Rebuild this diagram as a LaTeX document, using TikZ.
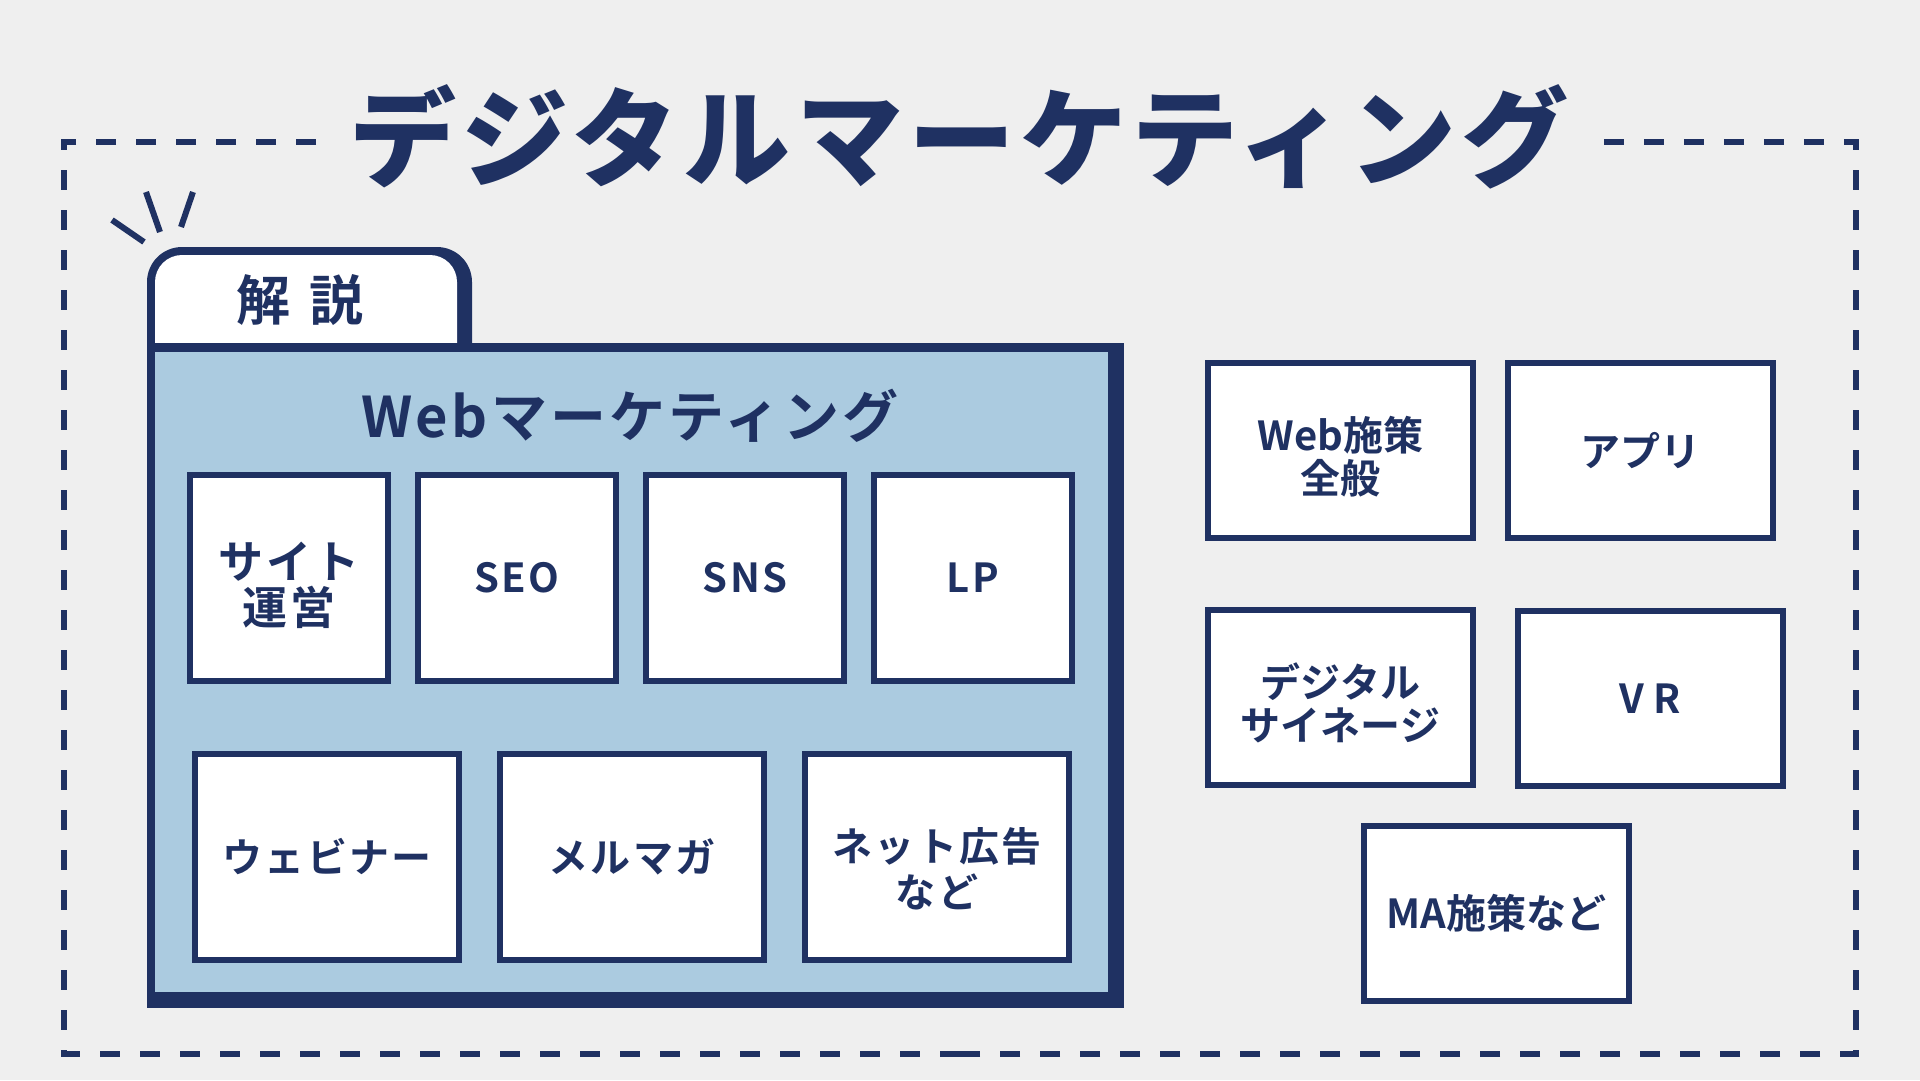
\documentclass[tikz,border=0pt]{standalone}
\usepackage{fontspec}
\setmainfont{Noto Sans CJK JP Bold}
\IfFontExistsTF{Noto Sans CJK JP Black}
  {\newfontfamily\titlefont{Noto Sans CJK JP Black}[LetterSpace=5]}
  {\newfontfamily\titlefont{Noto Sans CJK JP Bold}[LetterSpace=5,FakeBold=1.5]}
\newfontfamily\boxfont{Noto Sans CJK JP Bold}[LetterSpace=6]
\newfontfamily\plainfont{Noto Sans CJK JP Bold}
\definecolor{navy}{HTML}{1F3162}
\definecolor{folderblue}{HTML}{ABCBE0}
\definecolor{paper}{HTML}{EFEFEF}
\begin{document}
\begin{tikzpicture}[x=1pt,y=-1pt,node distance=228pt]
    \tikzstyle{item}=[rectangle, draw=navy, line width=6pt, fill=white, minimum width=198pt, minimum height=206pt, inner sep=0pt, align=center, text=navy, font=\boxfont\fontsize{40}{46}\selectfont]
    \tikzstyle{wideitem}=[item, minimum width=264pt]
    \tikzstyle{toolbox}=[item, minimum width=265pt, minimum height=175pt, font=\plainfont\fontsize{40}{43}\selectfont]
    \tikzstyle{frame}=[navy, line width=6pt, dash pattern=on 20pt off 20pt]
    \fill[paper] (0,0) rectangle (1920,1080);
    \useasboundingbox (0,0) rectangle (1920,1080);
    % outer dashed frame, open for the title
    \draw[frame] (316,142) -- (64,142) -- (64,1054) -- (960,1054);
    \draw[frame] (1604,142) -- (1856,142) -- (1856,1054) -- (960,1054);
    \node[text=navy, font=\titlefont\fontsize{107}{120}\selectfont] (title) at (959,137) {デジタルマーケティング};
    % folder with tab
    \fill[navy] (147,352) [rounded corners=35pt] -- (147,247) -- (472,247) [sharp corners] -- (472,352) -- cycle;
    \fill[white] (155,343) [rounded corners=27pt] -- (155,255) -- (457,255) [sharp corners] -- (457,343) -- cycle;
    \fill[navy] (147,343) rectangle (1124,1008);
    \fill[folderblue] (155,352) rectangle (1108,992);
    \node[text=navy, font=\fontsize{54}{60}\selectfont] (tablabel) at (300,300) {解\hspace{20pt}説};
    \draw[navy, line width=6pt] (112,220) -- (144,242) (146,192) -- (160,232) (193,192) -- (181,227);
    \node[text=navy, font=\boxfont\fontsize{56}{64}\selectfont] (webhead) at (630,416) {Webマーケティング};
    % web marketing items
    \node[item, font=\boxfont\fontsize{45}{46}\selectfont] (site) at (289,578) {\rule{0pt}{52pt}サイト\\運営};
    \node[item, right of=site] (seo) {SEO};
    \node[item, right of=seo] (sns) {SNS};
    \node[item, right of=sns] (lp) {LP};
    \node[wideitem] (webinar) at (327,857) {ウェビナー};
    \node[wideitem, right of=webinar, node distance=305pt] (mailmag) {メルマガ};
    \node[wideitem, right of=mailmag, node distance=305pt] (netad) {\rule{0pt}{58pt}ネット広告\\など};
    % other digital measures
    \node[toolbox] (webgeneral) at (1340.5,450.5) {\rule{0pt}{46pt}Web施策\\全般};
    \node[toolbox] (app) at (1640,450.5) {アプリ};
    \node[toolbox] (signage) at (1340.5,697.5) {\rule{0pt}{46pt}デジタル\\サイネージ};
    \node[toolbox] (vr) at (1650,698.5) {V\hspace{9pt}R};
    \node[toolbox] (ma) at (1496.5,913) {MA施策など};
\end{tikzpicture}
\end{document}
